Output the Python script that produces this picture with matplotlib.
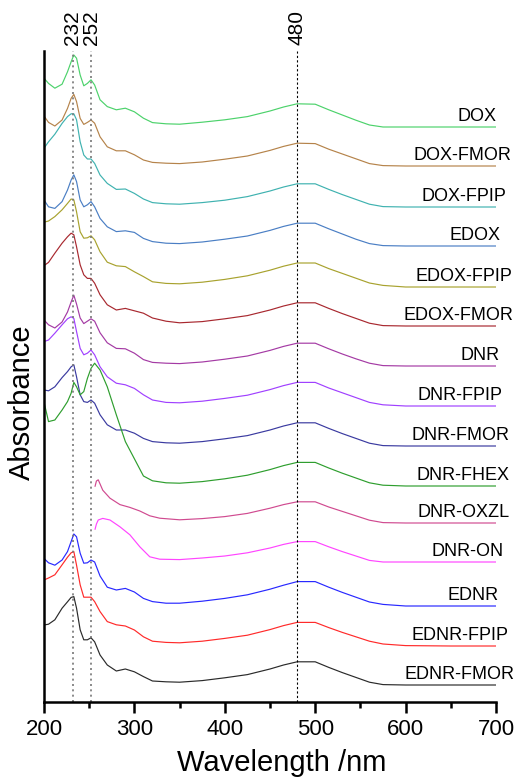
import numpy as np
import matplotlib
matplotlib.use("Agg")
import matplotlib.pyplot as plt
from matplotlib.ticker import MultipleLocator

plt.rcParams['font.family'] = ['Liberation Sans', 'DejaVu Sans']

# wavelength grid (nm) for spectra measured from 200 nm
wl = [200, 205, 212, 220, 226, 230, 233, 236, 240, 244, 248, 252, 256, 262, 270,
      280, 290, 300, 310, 320, 335, 350, 375, 400, 425, 450, 465, 480, 500, 515,
      530, 545, 560, 575, 600, 650, 700]
# grid for the two spectra that start near 256 nm
wl_late = [256.5, 258, 260, 265, 273, 284, 295, 306, 317, 328, 350, 375, 400, 425,
           450, 465, 480, 500, 515, 530, 545, 560, 575, 600, 650, 700]

names = ["DOX", "DOX-FMOR", "DOX-FPIP", "EDOX", "EDOX-FPIP", "EDOX-FMOR", "DNR",
         "DNR-FPIP", "DNR-FMOR", "DNR-FHEX", "DNR-OXZL", "DNR-ON", "EDNR",
         "EDNR-FPIP", "EDNR-FMOR"]

dox = [1.22, 1.09, 0.97, 1.07, 1.38, 1.63, 1.80, 1.72, 1.30, 1.03, 1.09, 1.18, 1.05, 0.68, 0.51,
       0.43, 0.47, 0.38, 0.22, 0.11, 0.08, 0.07, 0.12, 0.18, 0.26, 0.40, 0.50, 0.58, 0.57, 0.43,
       0.30, 0.17, 0.05, 0.00, 0.00, 0.00, 0.00]
dox_fmor = [1.25, 1.09, 1.00, 1.15, 1.44, 1.69, 1.79, 1.61, 1.19, 1.04, 1.09, 1.15, 1.07, 0.73, 0.48,
            0.38, 0.38, 0.28, 0.15, 0.09, 0.07, 0.06, 0.10, 0.17, 0.25, 0.39, 0.49, 0.57, 0.56, 0.42,
            0.30, 0.18, 0.06, 0.01, 0.00, 0.00, 0.00]
dox_fpip = [1.47, 1.63, 1.82, 2.09, 2.26, 2.33, 2.33, 2.18, 1.63, 1.30, 1.20, 1.20, 1.09, 0.80, 0.59,
            0.44, 0.45, 0.34, 0.20, 0.11, 0.08, 0.07, 0.11, 0.17, 0.26, 0.40, 0.50, 0.58, 0.58, 0.44,
            0.31, 0.19, 0.07, 0.01, 0.00, 0.00, 0.00]
edox = [1.15, 0.98, 0.94, 1.11, 1.40, 1.65, 1.78, 1.61, 1.15, 0.98, 1.03, 1.11, 0.98, 0.69, 0.48,
        0.36, 0.38, 0.34, 0.19, 0.11, 0.07, 0.06, 0.10, 0.17, 0.25, 0.39, 0.49, 0.57, 0.57, 0.43,
        0.30, 0.17, 0.06, 0.01, 0.00, 0.00, 0.00]
edox_fpip = [1.62, 1.65, 1.76, 1.93, 2.09, 2.20, 2.18, 1.88, 1.38, 1.22, 1.23, 1.28, 1.18, 0.88, 0.62,
             0.53, 0.51, 0.38, 0.26, 0.13, 0.09, 0.08, 0.12, 0.19, 0.28, 0.42, 0.52, 0.60, 0.60, 0.46,
             0.34, 0.22, 0.10, 0.04, 0.00, 0.00, 0.00]
edox_fmor = [1.51, 1.59, 1.82, 2.07, 2.23, 2.32, 2.28, 1.98, 1.53, 1.28, 1.19, 1.19, 1.07, 0.78, 0.53,
             0.40, 0.44, 0.38, 0.32, 0.20, 0.12, 0.08, 0.11, 0.18, 0.26, 0.40, 0.50, 0.58, 0.58, 0.44,
             0.31, 0.19, 0.07, 0.01, 0.00, 0.00, 0.00]
dnr = [1.15, 1.03, 0.95, 1.10, 1.35, 1.60, 1.77, 1.55, 1.20, 1.06, 1.12, 1.18, 1.12, 0.83, 0.58,
       0.44, 0.43, 0.32, 0.16, 0.09, 0.07, 0.06, 0.10, 0.17, 0.25, 0.39, 0.49, 0.57, 0.57, 0.43,
       0.30, 0.18, 0.07, 0.01, 0.00, 0.00, 0.00]
dnr_fpip = [1.61, 1.65, 1.82, 2.03, 2.18, 2.23, 2.19, 1.86, 1.44, 1.28, 1.32, 1.40, 1.28, 0.98, 0.73,
            0.57, 0.53, 0.44, 0.28, 0.15, 0.09, 0.08, 0.12, 0.19, 0.27, 0.41, 0.51, 0.59, 0.59, 0.45,
            0.33, 0.21, 0.09, 0.03, 0.00, 0.00, 0.00]
dnr_fmor = [1.40, 1.38, 1.48, 1.71, 1.86, 1.98, 2.03, 1.73, 1.28, 1.11, 1.09, 1.15, 1.07, 0.78, 0.53,
            0.40, 0.40, 0.32, 0.19, 0.11, 0.08, 0.07, 0.11, 0.18, 0.26, 0.40, 0.50, 0.58, 0.58, 0.44,
            0.31, 0.19, 0.07, 0.01, 0.00, 0.00, 0.00]
dnr_fhex = [2.10, 1.61, 1.65, 1.90, 2.11, 2.32, 2.59, 2.48, 2.28, 2.36, 2.69, 2.94, 3.07, 2.90, 2.48,
            1.78, 1.11, 0.68, 0.25, 0.13, 0.08, 0.07, 0.11, 0.18, 0.27, 0.41, 0.51, 0.59, 0.59, 0.45,
            0.32, 0.20, 0.08, 0.02, 0.00, 0.00, 0.00]
dnr_oxzl = [0.92, 1.05, 1.08, 0.82, 0.62, 0.46, 0.39, 0.30, 0.18, 0.12, 0.08, 0.11, 0.16, 0.24,
            0.37, 0.46, 0.53, 0.53, 0.40, 0.29, 0.18, 0.07, 0.01, 0.00, 0.00, 0.00]
dnr_on = [0.82, 0.95, 1.05, 1.09, 1.05, 0.88, 0.68, 0.38, 0.13, 0.07, 0.06, 0.10, 0.15, 0.23,
          0.35, 0.44, 0.51, 0.51, 0.38, 0.26, 0.15, 0.04, 0.00, 0.00, 0.00, 0.00]
ednr = [1.19, 1.08, 1.02, 1.15, 1.36, 1.61, 1.80, 1.73, 1.32, 1.07, 1.08, 1.15, 1.10, 0.75, 0.47,
        0.40, 0.44, 0.35, 0.19, 0.11, 0.07, 0.07, 0.12, 0.19, 0.28, 0.42, 0.52, 0.61, 0.61, 0.47,
        0.34, 0.22, 0.10, 0.04, 0.00, 0.00, 0.00]
ednr_fpip = [1.65, 1.70, 1.78, 2.03, 2.22, 2.33, 2.36, 2.02, 1.53, 1.22, 1.22, 1.22, 1.11, 0.86, 0.61,
             0.53, 0.50, 0.40, 0.23, 0.12, 0.09, 0.08, 0.12, 0.19, 0.27, 0.41, 0.51, 0.59, 0.59, 0.46,
             0.34, 0.23, 0.12, 0.05, 0.01, 0.00, 0.00]
ednr_fmor = [1.50, 1.52, 1.63, 1.92, 2.08, 2.19, 2.21, 1.92, 1.38, 1.13, 1.13, 1.18, 1.08, 0.75, 0.50,
             0.35, 0.40, 0.33, 0.21, 0.10, 0.08, 0.07, 0.11, 0.18, 0.26, 0.40, 0.50, 0.58, 0.58, 0.44,
             0.31, 0.19, 0.07, 0.01, 0.00, 0.00, 0.00]

spectra = [dox, dox_fmor, dox_fpip, edox, edox_fpip, edox_fmor, dnr, dnr_fpip, dnr_fmor,
           dnr_fhex, dnr_oxzl, dnr_on, ednr, ednr_fpip, ednr_fmor]
grids = [wl] * 10 + [wl_late, wl_late] + [wl] * 3

# vertical stacking offsets
offsets = [14.375, 13.4, 12.375, 11.4, 10.375, 9.4, 8.4, 7.4, 6.4, 5.4, 4.475, 3.5, 2.4, 1.4, 0.425]

colors = ['#4cd26b', '#b5834a', '#3fb2b0', '#4a7ec4', '#a8a22e', '#a8282f', '#a43aa4',
          '#a040ff', '#3a3aa0', '#2e9e2e', '#d04a90', '#ff45ff', '#2828ff', '#ff2a2a', '#2a2a2a']

# where each name starts (nm)
label_x = [656.9, 608.2, 618.1, 649.1, 611.5, 598.2, 660.2, 613.7, 606.0, 612.6, 613.7,
           628.1, 646.9, 606.0, 599.3]

marks = [232, 252, 480]

fig = plt.figure(figsize=(5.17, 7.78), dpi=100)
ax = fig.add_axes([44 / 517, 1 - 702 / 778, 452 / 517, 651 / 778])

for x, y, off, c, name, lx in zip(grids, spectra, offsets, colors, names, label_x):
    ax.plot(x, np.array(y) + off, color=c, lw=0.85)
    ax.text(lx, off + 0.14, name, fontsize=13, ha='left', va='baseline')

for m in marks:
    if m == 480:
        ax.axvline(m, color='k', lw=0.8, ls=(0, (2, 2)))
    else:
        ax.axvline(m, color='#777777', lw=1.2, ls=(0, (1.2, 2)))
    ax.annotate(str(m), xy=(m, 1), xycoords=('data', 'axes fraction'),
                xytext=(0, 4), textcoords='offset points', rotation=90,
                ha='center', va='bottom', fontsize=15)

ax.set_xlim(200, 700)
ax.set_ylim(0, 16.275)
ax.xaxis.set_major_locator(MultipleLocator(100))
ax.xaxis.set_minor_locator(MultipleLocator(50))
ax.tick_params(axis='x', which='major', direction='out', length=8, width=1.8,
               labelsize=16, pad=4)
ax.tick_params(axis='x', which='minor', direction='out', length=4.3, width=1.8)
ax.set_yticks([])
for s in ['top', 'right']:
    ax.spines[s].set_visible(False)
for s in ['left', 'bottom']:
    ax.spines[s].set_linewidth(1.8)

fig.text(22 / 517, 1 - 402 / 778, 'Absorbance', rotation=90, ha='center',
         va='center', fontsize=21)
fig.text(282 / 517, 1 - 771 / 778, 'Wavelength /nm', ha='center', va='baseline',
         fontsize=21)

fig.savefig('out.png', dpi=100)
